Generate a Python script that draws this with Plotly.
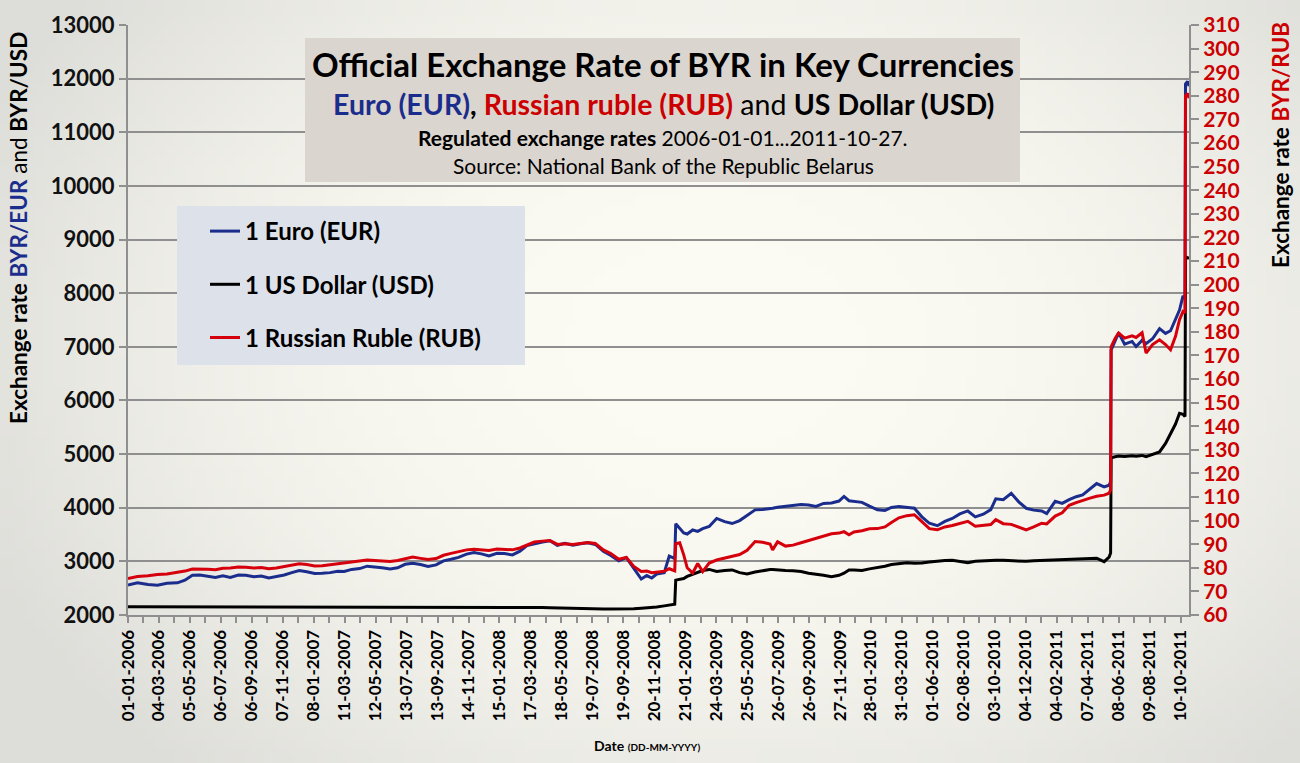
import plotly.graph_objects as go
import pandas as pd
import zlib, struct, base64

# ---------------- data ----------------
dates = [
    "2006-01-01", "2006-01-20", "2006-02-10", "2006-03-01", "2006-03-20", "2006-04-10", "2006-04-25",
    "2006-05-10", "2006-05-25", "2006-06-10", "2006-06-25", "2006-07-10", "2006-07-25", "2006-08-10",
    "2006-08-25", "2006-09-10", "2006-09-25", "2006-10-10", "2006-10-25", "2006-11-10", "2006-11-25",
    "2006-12-10", "2006-12-25",
    "2007-01-10", "2007-01-25", "2007-02-10", "2007-02-25", "2007-03-10", "2007-03-25", "2007-04-10",
    "2007-04-25", "2007-05-10", "2007-05-25", "2007-06-10", "2007-06-25", "2007-07-10", "2007-07-25",
    "2007-08-10", "2007-08-25", "2007-09-10", "2007-09-25", "2007-10-10", "2007-10-25", "2007-11-10",
    "2007-11-25", "2007-12-10", "2007-12-25",
    "2008-01-10", "2008-01-25", "2008-02-10", "2008-02-25", "2008-03-10", "2008-03-25", "2008-04-10",
    "2008-04-25", "2008-05-10", "2008-05-25", "2008-06-10", "2008-06-25", "2008-07-10", "2008-07-25",
    "2008-08-10", "2008-08-25", "2008-09-10", "2008-09-25", "2008-10-10", "2008-10-25", "2008-11-05",
    "2008-11-15", "2008-11-25", "2008-12-10", "2008-12-20", "2008-12-31",
    "2009-01-02", "2009-01-10", "2009-01-18", "2009-01-25", "2009-02-05", "2009-02-15", "2009-02-25",
    "2009-03-10", "2009-03-25", "2009-04-10", "2009-04-25", "2009-05-10", "2009-05-25", "2009-06-10",
    "2009-06-25", "2009-07-10", "2009-07-15", "2009-07-25", "2009-08-10", "2009-08-25", "2009-09-10",
    "2009-09-25", "2009-10-10", "2009-10-25", "2009-11-10", "2009-11-25", "2009-12-05", "2009-12-15",
    "2009-12-25",
    "2010-01-10", "2010-01-25", "2010-02-10", "2010-02-25", "2010-03-10", "2010-03-25", "2010-04-10",
    "2010-04-25", "2010-05-10", "2010-05-25", "2010-06-10", "2010-06-25", "2010-07-10", "2010-07-25",
    "2010-08-10", "2010-08-25", "2010-09-10", "2010-09-25", "2010-10-05", "2010-10-20", "2010-11-05",
    "2010-11-20", "2010-12-05", "2010-12-20",
    "2011-01-05", "2011-01-15", "2011-02-01", "2011-02-15", "2011-03-01", "2011-03-15", "2011-03-28",
    "2011-04-10", "2011-04-25", "2011-05-10", "2011-05-20", "2011-05-23", "2011-05-24", "2011-06-01",
    "2011-06-08", "2011-06-20", "2011-07-05", "2011-07-13", "2011-07-25", "2011-08-02", "2011-08-15",
    "2011-08-29", "2011-09-10", "2011-09-20", "2011-09-30", "2011-10-08", "2011-10-15", "2011-10-19",
    "2011-10-20", "2011-10-24", "2011-10-27",
]

eur = [
    2560, 2600, 2570, 2555, 2590, 2600, 2650,
    2740, 2745, 2715, 2700, 2730, 2700, 2745,
    2740, 2715, 2725, 2690, 2720, 2745, 2790,
    2830, 2805,
    2775, 2780, 2790, 2815, 2810, 2850, 2865,
    2910, 2900, 2880, 2860, 2880, 2945, 2965,
    2940, 2905, 2935, 3010, 3040, 3075, 3135,
    3165, 3140, 3100,
    3150, 3145, 3120, 3190, 3295, 3330, 3360,
    3385, 3300, 3335, 3300, 3330, 3345, 3315,
    3190, 3110, 3010, 3070, 2860, 2670, 2735,
    2690, 2765, 2790, 3100, 3050,
    3700, 3620, 3530, 3510, 3585, 3560, 3610,
    3650, 3800, 3740, 3705, 3760, 3860, 3960,
    3965, 3975, 3990, 4010, 4025, 4045, 4060,
    4050, 4025, 4080, 4090, 4125, 4210, 4130,
    4115,
    4100, 4030, 3960, 3950, 4005, 4025, 4010,
    3990, 3830, 3710, 3665, 3745, 3800, 3885,
    3940, 3830, 3880, 3965, 4165, 4150, 4270,
    4110, 3990, 3955,
    3940, 3890, 4120, 4080, 4150, 4205, 4240,
    4345, 4450, 4390, 4420, 4490, 6940, 7110,
    7260, 7050, 7100, 7005, 7120, 7060, 7150,
    7340, 7250, 7300, 7500, 7685, 7950, 7900,
    11900, 11950, 11860,
]

usd = [
    2152, 2152, 2151, 2150, 2150, 2148, 2148,
    2146, 2146, 2144, 2142, 2140, 2140, 2140,
    2140, 2140, 2140, 2140, 2140, 2140, 2140,
    2140, 2140,
    2141, 2143, 2143, 2143, 2143, 2143, 2145,
    2145, 2145, 2145, 2146, 2148, 2150, 2150,
    2150, 2150, 2150, 2150, 2150, 2150, 2150,
    2150, 2150, 2150,
    2150, 2150, 2150, 2150, 2147, 2145, 2140,
    2135, 2130, 2128, 2125, 2122, 2120, 2118,
    2112, 2110, 2110, 2110, 2115, 2125, 2130,
    2140, 2150, 2170, 2190, 2200,
    2650, 2660, 2680, 2720, 2760, 2800, 2830,
    2850, 2810, 2830, 2840, 2790, 2765, 2800,
    2830, 2850, 2850, 2840, 2830, 2825, 2810,
    2780, 2765, 2740, 2715, 2740, 2780, 2840,
    2840,
    2830, 2860, 2880, 2910, 2940, 2960, 2975,
    2965, 2970, 2990, 3010, 3015, 3020, 3000,
    2975, 3000, 3010, 3015, 3020, 3020, 3015,
    3010, 3000, 3010,
    3015, 3020, 3030, 3035, 3040, 3045, 3050,
    3055, 3060, 2995, 3080, 3155, 4930, 4950,
    4965, 4955, 4970, 4960, 4975, 4950, 4990,
    5040, 5200, 5390, 5560, 5760, 5740, 5700,
    8680, 8660, 8650,
]

rub = [
    75.5, 76.3, 76.6, 77.2, 77.4, 78.0, 78.6,
    79.5, 79.6, 79.4, 79.2, 79.8, 79.9, 80.3,
    80.2, 79.9, 80.1, 79.6, 79.9, 80.6, 81.3,
    81.7, 81.4,
    80.8, 80.9, 81.3, 81.8, 82.0, 82.4, 82.8,
    83.3, 83.1, 82.8, 82.7, 83.1, 84.0, 84.6,
    84.0, 83.5, 83.9, 85.3, 86.1, 86.8, 87.6,
    87.9, 87.6, 87.3,
    88.0, 87.8, 87.6, 88.4, 89.7, 90.9, 91.3,
    91.6, 89.9, 90.2, 89.9, 90.3, 90.7, 90.3,
    87.6, 86.0, 83.6, 84.4, 80.6, 78.4, 78.6,
    77.9, 78.2, 78.5, 79.6, 78.7,
    90.2, 90.6, 85.5, 80.0, 77.8, 81.8, 78.4,
    82.0, 83.3, 84.2, 84.8, 85.6, 87.4, 91.1,
    90.8, 90.1, 87.6, 91.0, 89.2, 89.6, 90.6,
    91.6, 92.5, 93.3, 94.4, 94.7, 95.3, 94.0,
    95.2,
    95.7, 96.5, 96.6, 97.3, 99.2, 101.2, 102.1,
    102.5, 99.6, 96.6, 96.1, 97.3, 97.9, 98.7,
    99.7, 97.6, 98.0, 98.3, 100.4, 98.7, 98.4,
    97.3, 96.1, 97.3,
    98.9, 98.6, 101.9, 103.3, 106.5, 107.6, 108.6,
    109.4, 110.3, 110.8, 111.6, 113.0, 173.6, 177.2,
    179.5, 177.3, 178.3, 177.6, 179.6, 171.0, 174.6,
    176.6, 174.6, 172.4, 178.1, 185.1, 188.6, 188.1,
    280.0, 281.0, 279.0,
]

series_names = ["1 Euro (EUR)", "1 US Dollar (USD)", "1 Russian Ruble (RUB)"]
left_ticks = list(range(2000, 13001, 1000))
right_ticks = list(range(60, 311, 10))

assert len(dates) == len(eur) == len(usd) == len(rub)

# ---------------- geometry helpers ----------------
W, H = 1300, 763
ML, MR, MT, MB = 128, 111, 25, 148
PW, PH = W - ML - MR, H - MT - MB


def px(x):
    return (x - ML) / PW


def py(y):
    return (H - MB - y) / PH


FONT = "Lato"
NAVY = "#1b2d8c"
RED = "#d6000c"
TRED = "#cc0000"
GRID = "#8f8f8f"


def gradient_png(w=130, h=76):
    c0 = (253, 252, 244)
    c1 = (221, 221, 217)
    rows = []
    for j in range(h):
        v = j / (h - 1)
        row = bytearray([0])
        for i in range(w):
            u = i / (w - 1)
            d = ((u - 0.55) / 0.62) ** 2 + ((v - 0.45) / 0.78) ** 2
            t = min(d, 1.0)
            row += bytes(int(c0[k] + (c1[k] - c0[k]) * t) for k in range(3))
        rows.append(bytes(row))
    raw = b"".join(rows)

    def chunk(tag, data):
        return (struct.pack(">I", len(data)) + tag + data +
                struct.pack(">I", zlib.crc32(tag + data) & 0xffffffff))

    png = (b"\x89PNG\r\n\x1a\n" +
           chunk(b"IHDR", struct.pack(">IIBBBBB", w, h, 8, 2, 0, 0, 0)) +
           chunk(b"IDAT", zlib.compress(raw, 9)) + chunk(b"IEND", b""))
    return "data:image/png;base64," + base64.b64encode(png).decode()


# ---------------- figure ----------------
fig = go.Figure()
fig.add_trace(go.Scatter(x=dates, y=eur, name=series_names[0], mode="lines",
                         line=dict(color=NAVY, width=3), legendgroup="a"))
fig.add_trace(go.Scatter(x=dates, y=usd, name=series_names[1], mode="lines",
                         line=dict(color="black", width=3), legendgroup="b"))
fig.add_trace(go.Scatter(x=dates, y=rub, name=series_names[2], mode="lines", yaxis="y2",
                         line=dict(color=RED, width=3), legendgroup="c"))

tick_dates = pd.date_range("2006-01-01", periods=69, freq="31D")
tick_text = [d.strftime("%d-%m-%Y") if i % 2 == 0 else "" for i, d in enumerate(tick_dates)]

fig.update_layout(
    width=W, height=H,
    margin=dict(l=ML, r=MR, t=MT, b=MB),
    paper_bgcolor="#f4f3ee",
    plot_bgcolor="rgba(0,0,0,0)",
    font=dict(family=FONT, color="black"),
    showlegend=True,
    legend=dict(x=px(205), y=py(209), xanchor="left", yanchor="top",
                bgcolor="rgba(0,0,0,0)", traceorder="grouped", tracegroupgap=19,
                font=dict(family=FONT, size=24, color="black", weight="bold"),
                itemwidth=30),
    xaxis=dict(type="date", range=["2006-01-01", "2011-10-27"],
               tickvals=list(tick_dates), ticktext=tick_text, tickangle=-90,
               tickfont=dict(family=FONT, size=17, color="black", weight="bold"),
               ticks="outside", ticklen=6, tickcolor=GRID, tickwidth=1.5,
               showgrid=False, showline=True, linecolor=GRID, linewidth=2,
               zeroline=False),
    yaxis=dict(range=[2000, 13000], tickvals=left_ticks, tickformat="d",
               tickfont=dict(family=FONT, size=22, color="#111111", weight="bold"),
               ticks="outside", ticklen=7, tickcolor=GRID, tickwidth=1.5,
               showgrid=True, gridcolor=GRID, gridwidth=1.5,
               showline=True, linecolor=GRID, linewidth=2, zeroline=False),
    yaxis2=dict(range=[60, 310], tickvals=right_ticks, overlaying="y", side="right",
                tickfont=dict(family=FONT, size=21, color=TRED, weight="bold"),
                ticks="outside", ticklen=8, tickcolor=GRID, tickwidth=1.5,
                showgrid=False, showline=True, linecolor=GRID, linewidth=2,
                zeroline=False),
)

fig.add_layout_image(dict(source=gradient_png(), xref="paper", yref="paper",
                          x=px(0), y=py(0), sizex=W / PW, sizey=H / PH,
                          xanchor="left", yanchor="top", sizing="stretch",
                          layer="below", opacity=1))

# title box and legend box
fig.add_shape(type="rect", xref="paper", yref="paper",
              x0=px(305), x1=px(1020), y0=py(182), y1=py(38),
              fillcolor="#dbd5cf", line=dict(width=0), layer="above")
fig.add_shape(type="rect", xref="paper", yref="paper",
              x0=px(177), x1=px(525), y0=py(365), y1=py(206),
              fillcolor="#dde1e9", line=dict(width=0), layer="above")


def note(text, x, y, size, angle=0):
    fig.add_annotation(text=text, x=px(x), y=py(y), xref="paper", yref="paper",
                       xanchor="center", yanchor="middle", showarrow=False,
                       textangle=angle, font=dict(family=FONT, size=size, color="black"))


note("<b>Official Exchange Rate of BYR in Key Currencies</b>", 663, 64, 33)
note(f"<b><span style='color:{NAVY}'>Euro (EUR)</span>, "
     f"<span style='color:{TRED}'>Russian ruble (RUB)</span></b> and "
     f"<b>US Dollar (USD)</b>", 663, 104, 28.5)
note("<b>Regulated exchange rates</b> 2006-01-01...2011-10-27.", 663, 137, 21)
note("Source: National Bank of the Republic Belarus", 663, 165, 21)

# axis titles
note(f"<b>Exchange rate</b> <b><span style='color:{NAVY}'>BYR/EUR</span></b> and <b>BYR/USD</b>",
     18, 228, 22.5, angle=-90)
note(f"<b>Exchange rate</b> <b><span style='color:{TRED}'>BYR/RUB</span></b>",
     1280, 145, 22.5, angle=-90)
note("<b>Date</b> <b><span style='font-size:10px'>(DD-MM-YYYY)</span></b>", 647, 745, 14)

fig.write_html("out.html")
